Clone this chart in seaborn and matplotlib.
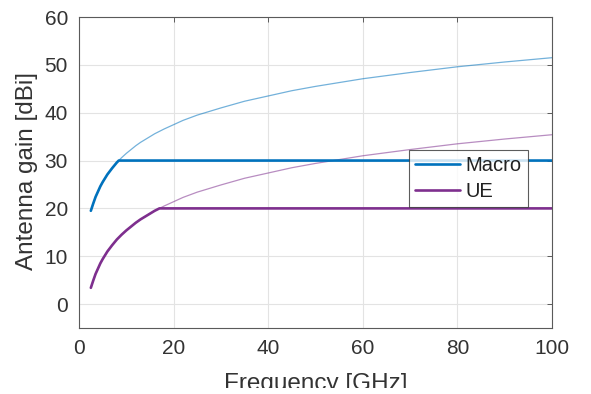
import matplotlib
matplotlib.use("Agg")
import matplotlib.pyplot as plt
import matplotlib.patches as mpatches
import seaborn as sns
import pandas as pd

# Data
freq_ghz = [2.5, 3, 3.5, 4, 4.5, 5, 6, 7, 8, 8.4, 9, 10, 11, 12, 13, 14, 15, 16, 17, 18,
            20, 22, 25, 28, 30, 35, 40, 45, 50, 60, 70, 80, 90, 100]
macro_gain_full = [19.5, 21.0, 22.4, 23.5, 24.6, 25.5, 27.1, 28.4, 29.6, 30.0,
                   30.6, 31.5, 32.3, 33.1, 33.8, 34.4, 35.0, 35.6, 36.1, 36.6,
                   37.5, 38.4, 39.5, 40.4, 41.0, 42.4, 43.5, 44.6, 45.5,
                   47.1, 48.4, 49.6, 50.6, 51.5]
macro_gain_capped = [19.5, 21.0, 22.4, 23.5, 24.6, 25.5, 27.1, 28.4, 29.6, 30.0,
                     30, 30, 30, 30, 30, 30, 30, 30, 30, 30,
                     30, 30, 30, 30, 30, 30, 30, 30, 30,
                     30, 30, 30, 30, 30]
ue_gain_full = [3.4, 4.9, 6.3, 7.4, 8.5, 9.4, 11.0, 12.3, 13.5, 13.9,
                14.5, 15.4, 16.2, 17.0, 17.7, 18.3, 18.9, 19.5, 20.0, 20.5,
                21.4, 22.3, 23.4, 24.3, 24.9, 26.3, 27.4, 28.5, 29.4,
                31.0, 32.3, 33.5, 34.5, 35.4]
ue_gain_capped = [3.4, 4.9, 6.3, 7.4, 8.5, 9.4, 11.0, 12.3, 13.5, 13.9,
                  14.5, 15.4, 16.2, 17.0, 17.7, 18.3, 18.9, 19.5, 20.0, 20,
                  20, 20, 20, 20, 20, 20, 20, 20, 20,
                  20, 20, 20, 20, 20]
series_names = ["Macro", "UE"]
x_ticks = [0, 20, 40, 60, 80, 100]
y_ticks = [0, 10, 20, 30, 40, 50, 60]

sns.set_theme(style="white")
plt.rcParams['font.family'] = ['Liberation Sans', 'DejaVu Sans']

fig = plt.figure(figsize=(5.91, 3.94), dpi=100)
ax = fig.add_axes([0.1337, 0.1675, 0.8003, 0.7893])

blue = "#0072BD"
purple = "#7E2F8E"
pal = {series_names[0]: blue, series_names[1]: purple}

n = len(freq_ghz)
df_full = pd.DataFrame({
    "f": freq_ghz * 2,
    "g": macro_gain_full + ue_gain_full,
    "s": [series_names[0]] * n + [series_names[1]] * n,
})
df_cap = pd.DataFrame({
    "f": freq_ghz * 2,
    "g": macro_gain_capped + ue_gain_capped,
    "s": [series_names[0]] * n + [series_names[1]] * n,
})

sns.lineplot(data=df_full, x="f", y="g", hue="s", palette=pal, linewidth=0.9,
             alpha=0.55, legend=False, ax=ax, sort=False)
n_thin = len(ax.lines)
sns.lineplot(data=df_cap, x="f", y="g", hue="s", palette=pal, linewidth=1.9,
             legend=False, ax=ax, sort=False)
thick_lines = ax.lines[n_thin:]

ax.set_xlim(0, 100)
ax.set_ylim(-5, 60)
ax.set_xticks(x_ticks)
ax.set_yticks(y_ticks)
ax.grid(True, color="#e3e3e3", linewidth=0.8)
for sp in ax.spines.values():
    sp.set_color("#5a5a5a")
    sp.set_linewidth(0.8)
ax.tick_params(direction="in", length=3.5, width=0.7, color="#5a5a5a",
               top=True, right=True, labelsize=15, labelcolor="#333333", pad=8)

ax.set_xlabel("Frequency [GHz]", fontsize=17.5, color="#333333")
ax.set_ylabel("Antenna gain [dBi]", fontsize=17.5, color="#333333")
ax.xaxis.set_label_coords(0.5, -0.145)
ax.yaxis.set_label_coords(-0.087, 0.505)

leg = ax.legend(thick_lines, series_names, loc="upper left",
                bbox_to_anchor=(0.698, 0.572),
                fontsize=14.5, frameon=True, fancybox=False, handlelength=2.2,
                borderpad=0.3, labelspacing=0.35, handletextpad=0.3, borderaxespad=0)
leg.get_frame().set_edgecolor("#333333")
leg.get_frame().set_linewidth(0.8)
for t in leg.get_texts():
    t.set_color("#222222")

# the reference image is cropped just below the x-label's letters
fig.patches.append(mpatches.Rectangle((0, 0), 1, 6.5 / 394, transform=fig.transFigure,
                                      facecolor="white", edgecolor="none", zorder=10))

fig.savefig("out.png", dpi=100)
